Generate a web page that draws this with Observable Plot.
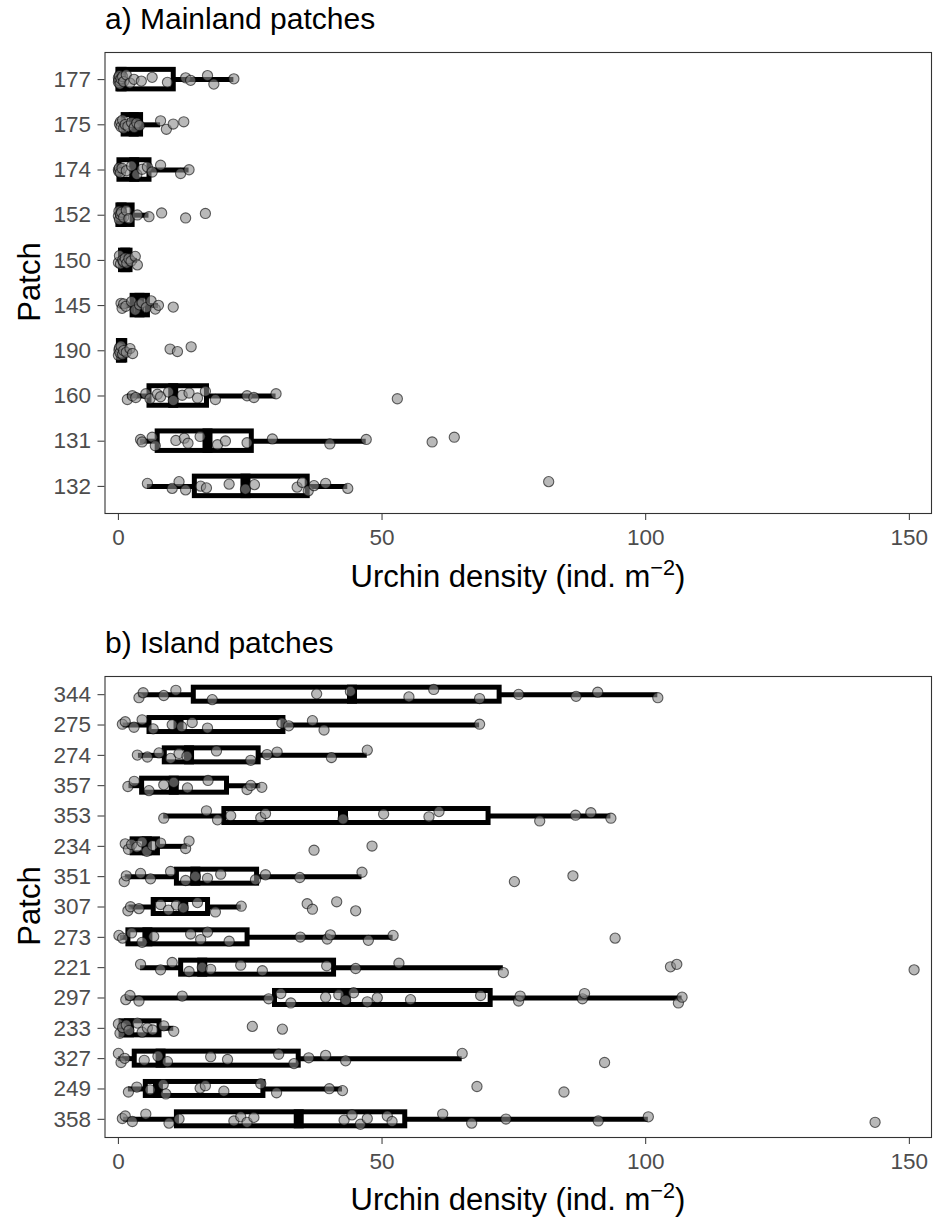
<!DOCTYPE html>
<html>
<head>
<meta charset="utf-8">
<script src="https://cdn.jsdelivr.net/npm/d3@7"></script>
<script src="https://cdn.jsdelivr.net/npm/@observablehq/plot@0.6"></script>
<style>
  html, body { margin: 0; padding: 0; background: #fff; }
  #root { position: relative; width: 933px; height: 1220px; background: #fff;
          font-family: "Liberation Sans", Arial, Helvetica, sans-serif; }
  .abs { position: absolute; white-space: nowrap; line-height: 1; color: #000; }
  .ptitle { font-size: 30px; }
  .xtitle { font-size: 31px; transform: translateX(-50%); }
  .ytitle { font-size: 31px; transform: translate(-50%, -50%) rotate(-90deg); }
  .sup { font-size: 70%; position: relative; top: -0.55em; }
  svg { position: absolute; left: 0; }
</style>
</head>
<body>
<div id="root"></div>
<script>
// ---------- data ----------
const xTicks = [0, 50, 100, 150];

// a) Mainland patches (top to bottom)
const mainlandPatches = ["177", "175", "174", "152", "150", "145", "190", "160", "131", "132"];
const mainlandQ1     = [0,    1.0, 0.2, 0,   0.5, 2.7, 0.1, 5.9,  7.45, 14.5];
const mainlandMedian = [0.6,  2.9, 3.0, 0.6, 1.3, 4.0, 0.5, 10.4, 16.9, 24.1];
const mainlandQ3     = [10.5, 4.3, 5.9, 2.7, 2.3, 5.6, 1.3, 16.8, 25.3, 35.9];
const mainlandLow    = [0,    0.1, 0,   0,   0,   0.5, 0,   1.7,  4.2,  5.5];
const mainlandHigh   = [21.9, 8.0, 13.4, 5.8, 3.6, 7.6, 2.7, 29.9, 47.0, 43.5];
const mainlandPoints = [
  [0, 0, 0.1, 0.2, 0.3, 0.5, 0.8, 1.0, 1.5, 2.2, 2.96, 4.35, 6.4, 9.3, 12.75, 13.7, 16.9, 18.1, 21.9],
  [0.2, 0.4, 0.5, 0.8, 1.0, 1.3, 1.8, 2.5, 3.0, 3.5, 4.0, 8.0, 9.1, 10.4, 12.4],
  [0, 0.1, 0.2, 0.4, 0.7, 1.5, 2.5, 3.5, 4.5, 5.5, 6.4, 8.0, 11.8, 13.4],
  [0, 0.1, 0.2, 0.4, 0.6, 1.0, 1.5, 2.0, 3.6, 5.8, 8.2, 12.75, 16.5],
  [0, 0.2, 0.4, 0.8, 1.0, 1.3, 1.6, 2.0, 2.4, 3.2, 3.6],
  [0.5, 0.7, 1.0, 1.4, 2.5, 3.2, 4.0, 4.5, 5.3, 6.2, 7.0, 7.6, 10.4],
  [0, 0.1, 0.2, 0.3, 0.5, 0.8, 1.0, 1.5, 2.2, 2.7, 9.8, 11.2, 13.8],
  [1.7, 2.65, 3.3, 5.2, 6.0, 7.4, 8.0, 9.5, 10.4, 12.1, 13.4, 15.0, 16.5, 18.4, 24.4, 25.7, 29.9, 52.9],
  [4.2, 4.5, 6.4, 7.0, 10.9, 12.5, 13.2, 15.5, 18.8, 20.3, 24.4, 29.2, 40.1, 47.0, 59.5, 63.7],
  [5.5, 10.2, 11.5, 12.75, 15.6, 16.7, 21.0, 24.1, 25.8, 33.9, 34.9, 36.0, 37.1, 39.3, 43.5, 81.6]
];

// b) Island patches (top to bottom)
const islandPatches = ["344", "275", "274", "357", "353", "234", "351", "307", "273", "221", "297", "233", "327", "249", "358"];
const islandQ1     = [14.3, 5.9,  8.8,  4.5,  20.1, 2.7,  11.1, 6.7,  1.9,  11.9, 29.7, 0.6,  3.1,  5.2,  11.1];
const islandMedian = [44.3, 11.4, 13.4, 10.5, 42.6, 5.4,  14.6, 12.3, 5.5,  15.9, 43.1, 2.0,  8.0,  7.5,  34.2];
const islandQ3     = [72.3, 31.3, 26.6, 20.6, 70.2, 7.5,  26.3, 17.0, 24.5, 40.9, 70.6, 7.8,  34.2, 27.5, 54.4];
const islandLow    = [3.9,  0.9,  3.8,  2.0,  8.6,  1.8,  1.3,  2.0,  0.4,  4.2,  1.4,  0,    0,    1.9,  1.0];
const islandHigh   = [102.3, 68.5, 47.2, 27.0, 93.4, 13.1, 46.2, 23.3, 52.1, 73.0, 106.9, 10.5, 65.2, 42.5, 100.5];
const islandPoints = [
  [3.9, 4.7, 8.6, 10.9, 17.8, 37.6, 44.0, 55.1, 59.8, 68.5, 75.9, 86.8, 90.9, 102.3],
  [0.75, 1.3, 2.96, 4.5, 6.6, 10.2, 12.0, 14.0, 16.9, 31.0, 32.3, 36.8, 39.0, 68.5],
  [3.6, 5.5, 7.7, 9.9, 11.5, 13.0, 18.6, 25.1, 28.2, 30.1, 40.4, 47.2],
  [1.8, 3.0, 5.8, 8.6, 10.5, 13.1, 17.0, 24.4, 25.1, 27.2],
  [8.6, 16.7, 18.8, 21.3, 27.0, 27.9, 42.6, 50.3, 58.9, 60.8, 79.9, 86.7, 89.6, 93.4],
  [1.3, 1.9, 2.5, 3.5, 4.5, 5.4, 6.5, 8.0, 12.75, 13.4, 37.1, 48.1],
  [1.1, 1.5, 4.2, 6.1, 9.9, 12.75, 14.6, 16.9, 19.4, 26.0, 27.9, 34.4, 46.2, 75.1, 86.2],
  [1.8, 2.3, 3.9, 8.0, 9.5, 11.0, 12.3, 15.0, 18.4, 23.3, 35.8, 36.8, 41.4, 45.0],
  [0.1, 0.8, 2.5, 4.5, 6.7, 13.7, 15.6, 16.9, 21.0, 34.5, 39.6, 40.2, 47.4, 52.1, 94.2],
  [4.2, 8.0, 10.2, 13.4, 15.9, 17.5, 23.2, 27.3, 39.5, 45.0, 53.2, 73.0, 104.7, 105.9, 150.9],
  [1.4, 2.2, 3.9, 12.1, 28.5, 30.8, 32.7, 39.3, 41.8, 43.1, 44.6, 47.2, 49.1, 55.4, 68.7, 75.9, 76.2, 88.0, 88.4, 106.2, 106.9],
  [0, 0.3, 0.8, 1.5, 2.0, 3.6, 4.5, 5.5, 6.5, 8.6, 10.5, 25.4, 31.1],
  [0, 0.5, 1.2, 4.9, 7.5, 9.3, 17.5, 20.7, 30.4, 33.3, 36.1, 39.3, 43.1, 65.2, 92.2],
  [1.9, 3.5, 6.0, 8.5, 9.0, 15.5, 16.5, 20.0, 27.0, 30.0, 40.0, 42.5, 68.0, 84.5],
  [0.75, 1.3, 2.65, 5.2, 9.6, 11.5, 21.9, 23.2, 24.4, 25.7, 42.8, 44.3, 45.9, 47.2, 51.0, 51.9, 61.5, 67.0, 73.5, 91.0, 100.5, 143.5]
];

// ---------- drawing ----------
// deterministic vertical spread pattern for the jittered dots (fraction of max offset)
const spread = [-0.55, 0.35, -0.15, 0.8, -0.9, 0.15, 0.6, -0.4, 0.95, -0.7, 0.05, -0.3, 0.45];

function panel(patches, q1, med, q3, lo, hi, pts, boxHalfPx, jitterPx) {
  const n = patches.length;
  const frameH = 461;
  const step = frameH / (n - 1 + 1.2);
  const rows = patches.map((p, i) => ({
    patch: p, rank: n - i, q1: q1[i], med: med[i], q3: q3[i], lo: lo[i], hi: hi[i]
  }));
  const dots = [];
  pts.forEach((arr, i) => arr.forEach((v, k) => {
    dots.push({v, y: (n - i) + spread[(k + i * 5) % spread.length] * jitterPx / step});
  }));
  const sw = 5;
  const bh = boxHalfPx / step;
  const mh = (boxHalfPx + sw / 2) / step;
  return Plot.plot({
    width: 933, height: 553,
    marginLeft: 104.5, marginRight: 2, marginTop: 52, marginBottom: 40,
    x: {domain: [-2.54, 154.2]},
    y: {domain: [0.4, n + 0.6]},
    style: {fontFamily: "Liberation Sans, Arial, Helvetica, sans-serif", fontSize: "22.5px", color: "#4d4d4d", background: "white", overflow: "visible"},
    marks: [
      Plot.ruleY(rows, {y: "rank", x1: "lo", x2: "q1", stroke: "black", strokeWidth: sw}),
      Plot.ruleY(rows, {y: "rank", x1: "q3", x2: "hi", stroke: "black", strokeWidth: sw}),
      Plot.rect(rows, {x1: "q1", x2: "q3", y1: d => d.rank - bh, y2: d => d.rank + bh,
                       fill: "none", stroke: "black", strokeWidth: sw}),
      Plot.ruleX(rows, {x: "med", y1: d => d.rank - mh, y2: d => d.rank + mh, stroke: "black", strokeWidth: 10}),
      Plot.dot(dots, {x: "v", y: "y", r: 5.1, fill: "#8a8a8a", fillOpacity: 0.6,
                      stroke: "black", strokeOpacity: 0.6, strokeWidth: 1.1}),
      Plot.axisX({ticks: xTicks, tickSize: 7, tickPadding: 9, label: null, stroke: "#333"}),
      Plot.axisY({ticks: d3.range(1, n + 1), tickFormat: d => patches[n - d],
                  tickSize: 7, tickPadding: 7, label: null, stroke: "#333"}),
      Plot.frame({stroke: "#333", strokeWidth: 1.1})
    ]
  });
}

const root = document.getElementById("root");
function addDiv(cls, html, left, top) {
  const d = document.createElement("div");
  d.className = "abs " + cls;
  d.innerHTML = html;
  d.style.left = left + "px";
  d.style.top = top + "px";
  root.appendChild(d);
}

const svgA = panel(mainlandPatches, mainlandQ1, mainlandMedian, mainlandQ3, mainlandLow, mainlandHigh, mainlandPoints, 9.75, 5);
svgA.style.top = "0px";
root.appendChild(svgA);
const svgB = panel(islandPatches, islandQ1, islandMedian, islandQ3, islandLow, islandHigh, islandPoints, 7, 5.5);
svgB.style.top = "624px";
root.appendChild(svgB);

const xTitle = 'Urchin density (ind. m<span class="sup">\u22122</span>)';
addDiv("ptitle", "a) Mainland patches", 105, 4);
addDiv("xtitle", xTitle, 518, 561);
addDiv("ytitle", "Patch", 29, 282);
addDiv("ptitle", "b) Island patches", 105, 628);
addDiv("xtitle", xTitle, 518, 1184);
addDiv("ytitle", "Patch", 29, 906);
</script>
</body>
</html>
